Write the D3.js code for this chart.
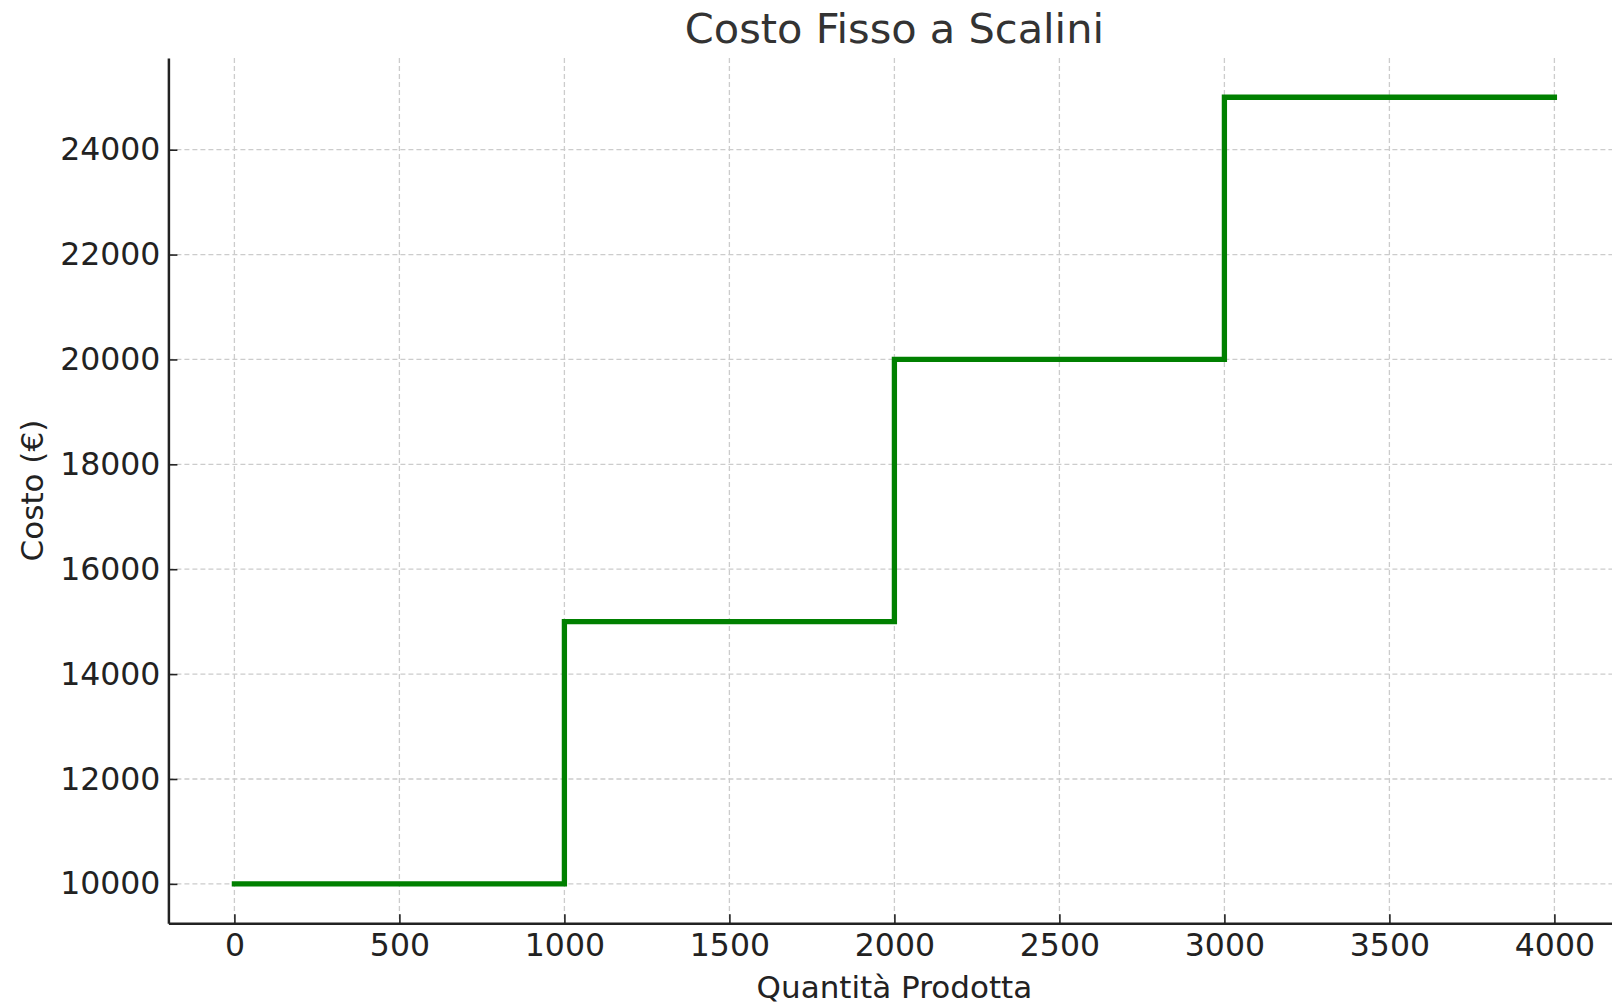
<!DOCTYPE html>
<html>
<head>
<meta charset="utf-8">
<script src="https://cdn.jsdelivr.net/npm/d3@7"></script>
<style>
  html, body { margin: 0; padding: 0; background: #fff; }
  svg { display: block; font-family: "DejaVu Sans", sans-serif; }
</style>
</head>
<body>
<svg id="chart" width="1612" height="1004"></svg>
<script>
// Step-wise fixed cost: the level jumps at each production threshold
const quantities = [0, 1000, 2000, 3000, 4000];
const costs = [10000, 15000, 20000, 25000, 25000];
const xTicks = [0, 500, 1000, 1500, 2000, 2500, 3000, 3500, 4000];
const yTicks = [10000, 12000, 14000, 16000, 18000, 20000, 22000, 24000];

const titleText = "Costo Fisso a Scalini";
const xLabel = "Quantità Prodotta";
const yLabel = "Costo (€)";

const W = 1612, H = 1004;
const plot = { left: 168.4, right: 1620.4, top: 57.9, bottom: 923.2 };

const svg = d3.select("#chart");

const x = d3.scaleLinear().domain([-200, 4200]).range([plot.left, plot.right]);
const y = d3.scaleLinear().domain([9250, 25750]).range([plot.bottom, plot.top]);

// dashed grid
const grid = svg.append("g").attr("stroke", "#cccccc").attr("stroke-width", 1.3)
  .attr("stroke-dasharray", "5,3");
grid.selectAll("line.gx").data(xTicks).join("line")
  .attr("x1", d => x(d)).attr("x2", d => x(d))
  .attr("y1", plot.top).attr("y2", plot.bottom);
grid.selectAll("line.gy").data(yTicks).join("line")
  .attr("x1", plot.left).attr("x2", plot.right)
  .attr("y1", d => y(d)).attr("y2", d => y(d));

// stepped cost line
const line = d3.line().x(d => x(d[0])).y(d => y(d[1])).curve(d3.curveStepAfter);
svg.append("path")
  .datum(quantities.map((q, i) => [q, costs[i]]))
  .attr("d", line)
  .attr("fill", "none")
  .attr("stroke", "#008000")
  .attr("stroke-width", 5.3)
  .attr("stroke-linejoin", "miter")
  .attr("stroke-linecap", "square");

// axes (ticks point inward, only left and bottom spines)
const xAxis = d3.axisBottom(x).tickValues(xTicks).tickFormat(d3.format("d"))
  .tickSizeInner(-9).tickSizeOuter(0).tickPadding(10);
const yAxis = d3.axisLeft(y).tickValues(yTicks).tickFormat(d3.format("d"))
  .tickSizeInner(-9).tickSizeOuter(0).tickPadding(8);

const gx = svg.append("g").attr("transform", `translate(0,${plot.bottom})`).call(xAxis);
const gy = svg.append("g").attr("transform", `translate(${plot.left},0)`).call(yAxis);

[gx, gy].forEach(g => {
  g.select(".domain").attr("stroke", "#222").attr("stroke-width", 2.5);
  g.selectAll(".tick line").attr("stroke", "#222").attr("stroke-width", 1.6);
  g.selectAll(".tick text").attr("fill", "#222")
    .style("font-family", "DejaVu Sans").style("font-size", "31.5px");
});
gx.selectAll(".tick text").attr("dy", "0.71em");

// title and axis labels
svg.append("text").attr("x", (plot.left + plot.right) / 2).attr("y", 43)
  .attr("text-anchor", "middle").attr("fill", "#333")
  .style("font-size", "41.5px").text(titleText);

svg.append("text").attr("x", (plot.left + plot.right) / 2).attr("y", 998)
  .attr("text-anchor", "middle").attr("fill", "#222")
  .style("font-size", "31px").text(xLabel);

svg.append("text")
  .attr("transform", `translate(43,${(plot.top + plot.bottom) / 2}) rotate(-90)`)
  .attr("text-anchor", "middle").attr("fill", "#222")
  .style("font-size", "31px").text(yLabel);
</script>
</body>
</html>
